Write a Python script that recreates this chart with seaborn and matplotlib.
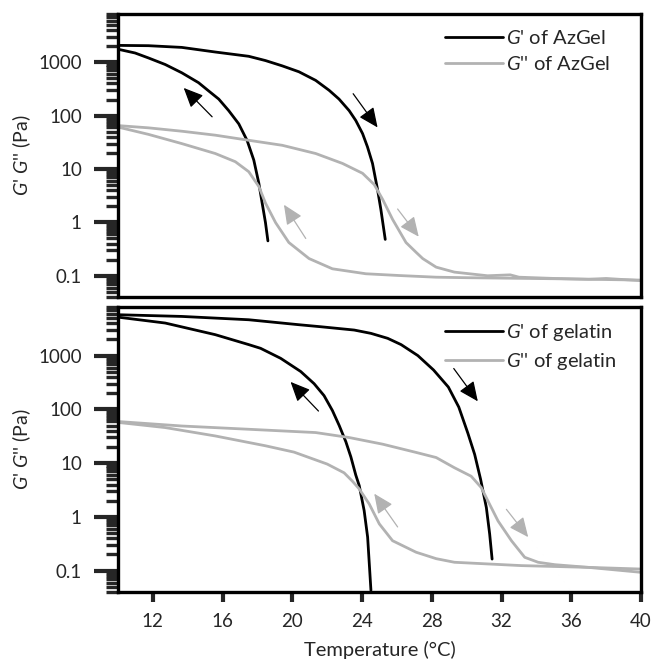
import matplotlib
matplotlib.use('Agg')
import matplotlib.pyplot as plt
import matplotlib.ticker as mticker
import numpy as np
import pandas as pd
import seaborn as sns

sns.set_style("white")
plt.rcParams['font.family'] = ['Lato', 'DejaVu Sans']
plt.rcParams['mathtext.fontset'] = 'custom'
plt.rcParams['mathtext.rm'] = 'Lato'
plt.rcParams['mathtext.it'] = 'Lato:italic'

BLACK = '#000000'
GREY = '#b2b2b2'

# ---- AzGel (top panel) ----
az_gp_heat_T = [10.12, 11.75, 13.66, 15.58, 17.5, 18.46, 19.42, 20.38, 21.34, 22.11, 22.68, 23.26,
                23.64, 24.03, 24.31, 24.6, 24.89, 25.08, 25.33]
az_gp_heat_G = [2065, 2040, 1895, 1553, 1291, 1074, 855, 662, 457, 298, 204, 124,
                81, 46, 26, 12.7, 4.1, 1.74, 0.48]
az_gp_cool_T = [18.6, 18.46, 18.27, 18.08, 17.79, 17.41, 16.93, 16.35, 15.78, 15.2, 14.62, 13.66,
                12.71, 11.75, 10.98, 10.12]
az_gp_cool_G = [0.45, 0.99, 2.3, 5.4, 14.7, 34, 70, 124, 204, 290, 414, 634,
                906, 1202, 1489, 1718]
az_gpp_heat_T = [10.0, 11.75, 13.66, 15.58, 17.5, 19.42, 21.34, 22.88, 24.03, 24.7, 25.18, 25.75,
                 26.52, 27.1, 27.48, 28.25, 29.3, 31.2, 32.5, 33.0, 35.05, 37.0, 38.0, 40.0]
az_gpp_heat_G = [65, 59, 51, 43, 34.5, 27.8, 19.5, 12.7, 8.3, 5.1, 2.7, 1.14,
                 0.42, 0.275, 0.21, 0.145, 0.117, 0.100, 0.104, 0.094, 0.089, 0.086, 0.089, 0.081]
az_gpp_cool_T = [40.0, 35.0, 30.0, 28.25, 26.14, 24.22, 22.3, 20.96, 19.8, 19.04, 18.46, 18.08,
                 17.5, 16.73, 15.58, 13.66, 11.75, 10.0]
az_gpp_cool_G = [0.083, 0.088, 0.092, 0.094, 0.101, 0.109, 0.135, 0.21, 0.42, 0.99, 2.3, 4.7,
                 8.9, 13.7, 19.5, 29.9, 44.5, 61]

# ---- gelatin (bottom panel) ----
ge_gp_heat_T = [10.12, 13.66, 17.5, 20.38, 21.63, 23.55, 24.51, 25.47, 26.24, 27.2, 28.1, 28.95,
                29.55, 30.07, 30.46, 30.8, 31.13, 31.32, 31.46]
ge_gp_heat_G = [5740, 5350, 4640, 3750, 3440, 2985, 2590, 2094, 1600, 1000, 540, 260,
                110, 36, 14.5, 5.0, 1.49, 0.48, 0.164]
ge_gp_cool_T = [24.51, 24.32, 24.12, 23.84, 23.64, 23.36, 23.07, 22.69, 22.3, 21.82, 21.25, 20.48,
                19.33, 18.18, 17.5, 15.58, 12.71, 10.12]
ge_gp_cool_G = [0.043, 0.42, 1.31, 3.8, 6.0, 13, 25, 50, 95, 180, 300, 506,
                890, 1365, 1600, 2450, 4030, 5130]
ge_gpp_heat_T = [10.12, 13.66, 17.5, 21.34, 23.26, 25.18, 27.1, 28.25, 29.3, 30.26, 30.84, 31.22,
                 31.8, 32.57, 33.33, 34.1, 35.06, 36.98, 40.0]
ge_gpp_heat_G = [59, 49, 42.6, 37, 29.9, 22.5, 15.8, 12.7, 8.2, 5.7, 3.5, 1.98,
                 0.84, 0.36, 0.177, 0.143, 0.129, 0.115, 0.093]
ge_gpp_cool_T = [40.0, 36.98, 33.14, 29.3, 28.25, 27.1, 25.75, 24.99, 24.41, 23.84, 23.45, 22.97,
                 22.0, 20.1, 18.46, 15.58, 12.71, 10.12]
ge_gpp_cool_G = [0.107, 0.115, 0.124, 0.143, 0.167, 0.22, 0.36, 0.74, 1.74, 3.3, 4.6, 6.6,
                 9.6, 16.0, 21, 32, 45.8, 56.6]

# arrows: (tail T, tail G, head T, head G)
az_arrows_black = [(15.4, 95, 13.77, 330), (23.49, 257, 24.89, 60)]
az_arrows_grey = [(20.77, 0.5, 19.52, 2.14), (26.04, 1.78, 27.25, 0.54)]
ge_arrows_black = [(21.5, 93, 19.9, 324), (29.26, 575, 30.64, 141)]
ge_arrows_grey = [(26.04, 0.65, 24.7, 2.7), (32.28, 1.38, 33.53, 0.42)]

x_ticks = [12, 16, 20, 24, 28, 32, 36, 40]
y_ticks = [0.1, 1, 10, 100, 1000]

fig = plt.figure(figsize=(6.54, 6.64), dpi=100)
ax_top = fig.add_axes([0.1804, 0.5527, 0.7997, 0.4262])
ax_bot = fig.add_axes([0.1804, 0.1084, 0.7997, 0.4292])


def draw_curve(ax, T, G, color):
    df = pd.DataFrame({'T': T, 'G': G})
    sns.lineplot(data=df, x='T', y='G', sort=False, estimator=None, color=color,
                 lw=2.0, ax=ax)


def draw_arrows(ax, arrows, color):
    for t0, g0, t1, g1 in arrows:
        ax.annotate('', xy=(t1, g1), xytext=(t0, g0),
                    arrowprops=dict(arrowstyle='-|>,head_length=0.6,head_width=0.27',
                                    color=color, lw=0.9, shrinkA=0, shrinkB=0,
                                    mutation_scale=20))


def style_axes(ax, show_x):
    ax.set_yscale('log')
    ax.set_xlim(10, 40)
    ax.set_ylim(0.04, 8000)
    ax.yaxis.set_major_locator(mticker.FixedLocator(y_ticks))
    ax.yaxis.set_major_formatter(mticker.FuncFormatter(lambda v, p: '{:g}'.format(v)))
    ax.yaxis.set_minor_locator(mticker.LogLocator(base=10, subs=np.arange(2, 10), numticks=20))
    ax.yaxis.set_minor_formatter(mticker.NullFormatter())
    ax.tick_params(axis='y', which='major', direction='out', length=17, width=3,
                   pad=9, labelsize=13.5, left=True)
    ax.tick_params(axis='y', which='minor', direction='out', length=9, width=2.4, left=True)
    ax.set_xticks(x_ticks)
    if show_x:
        ax.tick_params(axis='x', which='major', direction='out', length=7, width=3,
                       pad=8, labelsize=13.5, bottom=True)
        ax.set_xlabel('Temperature (°C)', fontsize=14.5, labelpad=8)
    else:
        ax.tick_params(axis='x', bottom=False, labelbottom=False)
        ax.set_xlabel('')
    for s in ax.spines.values():
        s.set_linewidth(2.4)
        s.set_color('black')
    ax.set_ylabel("$\\mathit{G}$' $\\mathit{G}$'' (Pa)", fontsize=14, labelpad=4)


draw_curve(ax_top, az_gp_heat_T, az_gp_heat_G, BLACK)
draw_curve(ax_top, az_gp_cool_T, az_gp_cool_G, BLACK)
draw_curve(ax_top, az_gpp_heat_T, az_gpp_heat_G, GREY)
draw_curve(ax_top, az_gpp_cool_T, az_gpp_cool_G, GREY)
draw_arrows(ax_top, az_arrows_black, BLACK)
draw_arrows(ax_top, az_arrows_grey, GREY)
style_axes(ax_top, False)

draw_curve(ax_bot, ge_gp_heat_T, ge_gp_heat_G, BLACK)
draw_curve(ax_bot, ge_gp_cool_T, ge_gp_cool_G, BLACK)
draw_curve(ax_bot, ge_gpp_heat_T, ge_gpp_heat_G, GREY)
draw_curve(ax_bot, ge_gpp_cool_T, ge_gpp_cool_G, GREY)
draw_arrows(ax_bot, ge_arrows_black, BLACK)
draw_arrows(ax_bot, ge_arrows_grey, GREY)
style_axes(ax_bot, True)

for ax, name in [(ax_top, 'AzGel'), (ax_bot, 'gelatin')]:
    lines = ax.get_lines()
    handles = [lines[0], lines[2]]
    labels = ["$\\mathit{G}$' of " + name, "$\\mathit{G}$'' of " + name]
    ax.legend(handles, labels, loc='upper left', bbox_to_anchor=(0.61, 0.975),
              frameon=False, fontsize=14.5, handlelength=2.9, handletextpad=0.15,
              labelspacing=0.4, borderaxespad=0)

fig.savefig('out.png', dpi=100)
